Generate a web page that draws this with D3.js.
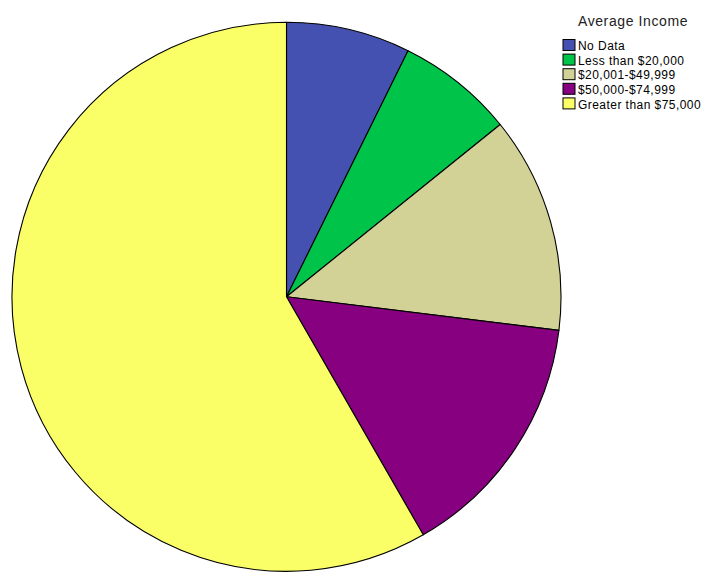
<!DOCTYPE html>
<html><head><meta charset="utf-8">
<script src="https://cdn.jsdelivr.net/npm/d3@7"></script>
<style>body{margin:0;background:#fff}svg{display:block}</style>
</head><body>
<script>
const categories = ["No Data","Less than $20,000","$20,001-$49,999","$50,000-$74,999","Greater than $75,000"];
const values = [7.3, 6.9, 12.75, 14.75, 58.3];
const colors = ["#4551b0","#00c44a","#d2d196","#870080","#fbff67"];
const legendTitle = "Average Income";

const W = 708, H = 582;
const svg = d3.select("body").append("svg").attr("width", W).attr("height", H);

const cx = 286.5, cy = 296.8, r = 274.5;
const pie = d3.pie().sort(null).value(d => d.v);
const arc = d3.arc().innerRadius(0).outerRadius(r);
const data = categories.map((c,i)=>({c, v: values[i], col: colors[i]}));
const g = svg.append("g").attr("transform",`translate(${cx},${cy})`);
g.selectAll("path").data(pie(data)).join("path")
  .attr("d", arc).attr("fill", d=>d.data.col)
  .attr("stroke","#000").attr("stroke-width",1.1).attr("stroke-linejoin","round");

const lg = svg.append("g");
lg.append("text").attr("x", 633).attr("y", 26).attr("text-anchor","middle")
  .attr("font-family","Liberation Sans, Arial, sans-serif").attr("font-size",14)
  .attr("letter-spacing",0.6).attr("fill","#222")
  .text(legendTitle);
const rows = lg.selectAll("g.row").data(data).join("g").attr("class","row")
  .attr("transform",(d,i)=>`translate(563,${39.5 + i*14.6})`);
rows.append("rect").attr("width",12).attr("height",11).attr("fill",d=>d.col)
  .attr("stroke","#000").attr("stroke-width",1);
rows.append("text").attr("x",15).attr("y",10.7)
  .attr("font-family","Liberation Sans, Arial, sans-serif").attr("font-size",12)
  .attr("letter-spacing",0.45).attr("fill","#000")
  .text(d=>d.c);
</script>
</body></html>
